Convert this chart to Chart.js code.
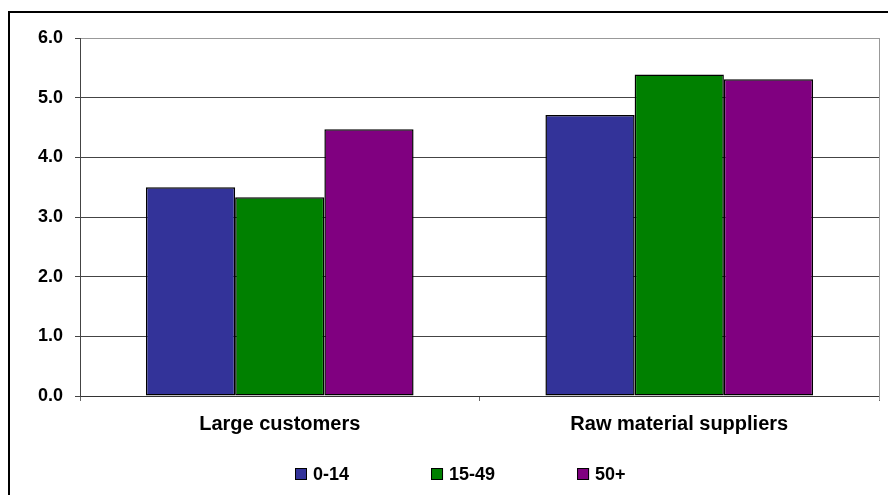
<!DOCTYPE html>
<html>
<head>
<meta charset="utf-8">
<title>Bar chart</title>
<script src="https://cdn.jsdelivr.net/npm/chart.js@4.4.1/dist/chart.umd.min.js"></script>
<style>
    html, body { margin: 0; padding: 0; background: #fff; }
    #wrap { position: relative; width: 888px; height: 495px; }
</style>
</head>
<body>
<div id="wrap"><canvas id="bar-chart" width="888" height="495"></canvas></div>
<script>
const categories = ['Large customers', 'Raw material suppliers'];
const seriesNames = ['0-14', '15-49', '50+'];
const values014 = [3.5, 4.71];
const values1549 = [3.33, 5.39];
const values50 = [4.47, 5.31];
const seriesColors = ['#333399', '#008000', '#800080'];
const yTicks = [0, 1, 2, 3, 4, 5, 6];

const FONT = '"Liberation Sans", Arial, sans-serif';

// outer frame, plot border and the legend row under the axis
const framePlugin = {
    id: 'frame',
    afterDraw(chart) {
        const ctx = chart.ctx;
        const area = chart.chartArea;
        ctx.save();
        ctx.strokeStyle = '#000';
        ctx.lineWidth = 2;
        ctx.strokeRect(9, 12, 900, 500);

        ctx.strokeStyle = '#999';
        ctx.lineWidth = 1;
        ctx.beginPath();
        ctx.moveTo(area.right + 0.5, area.top);
        ctx.lineTo(area.right + 0.5, area.bottom + 4);
        ctx.stroke();

        // legend
        ctx.font = 'bold 18px ' + FONT;
        ctx.textBaseline = 'middle';
        let x = 295;
        const y = 474;
        chart.data.datasets.forEach(ds => {
            ctx.fillStyle = ds.backgroundColor;
            ctx.fillRect(x, y - 6, 12, 12);
            ctx.strokeStyle = '#000';
            ctx.strokeRect(x + 0.5, y - 5.5, 11, 11);
            ctx.fillStyle = '#000';
            ctx.fillText(ds.label, x + 18, y + 1);
            x += 18 + ctx.measureText(ds.label).width + 82;
        });
        ctx.restore();
    }
};

const ctx = document.getElementById('bar-chart').getContext('2d');
new Chart(ctx, {
    type: 'bar',
    data: {
        labels: categories,
        datasets: [
            { label: seriesNames[0], data: values014, backgroundColor: seriesColors[0] },
            { label: seriesNames[1], data: values1549, backgroundColor: seriesColors[1] },
            { label: seriesNames[2], data: values50, backgroundColor: seriesColors[2] }
        ].map(d => Object.assign(d, {
            borderColor: '#000',
            borderWidth: 1.5,
            borderSkipped: false,
            categoryPercentage: 0.67,
            barPercentage: 1.0
        }))
    },
    plugins: [framePlugin],
    options: {
        responsive: false,
        animation: false,
        devicePixelRatio: 1,
        layout: { padding: { top: 38, right: 9, bottom: 0, left: 0 } },
        plugins: {
            legend: { display: false },
            tooltip: { enabled: false }
        },
        scales: {
            x: {
                afterFit: s => { s.height = 99; },
                grid: {
                    offset: true,
                    drawOnChartArea: false,
                    drawTicks: true,
                    tickLength: 5,
                    color: '#666'
                },
                border: { color: '#333', width: 1 },
                ticks: {
                    color: '#000',
                    padding: 11,
                    font: { family: FONT, size: 20, weight: 'bold' }
                }
            },
            y: {
                min: 0,
                max: 6,
                afterFit: s => { s.width = 80; },
                afterBuildTicks: s => { s.ticks = yTicks.map(v => ({ value: v })); },
                grid: {
                    color: c => (c.tick && c.tick.value === 6 ? '#999' : '#444'),
                    tickColor: '#444',
                    tickLength: 5
                },
                border: { color: '#444', width: 1 },
                ticks: {
                    color: '#000',
                    padding: 12,
                    callback: v => v.toFixed(1),
                    font: { family: FONT, size: 18, weight: 'bold' }
                }
            }
        }
    }
});
</script>
</body>
</html>
